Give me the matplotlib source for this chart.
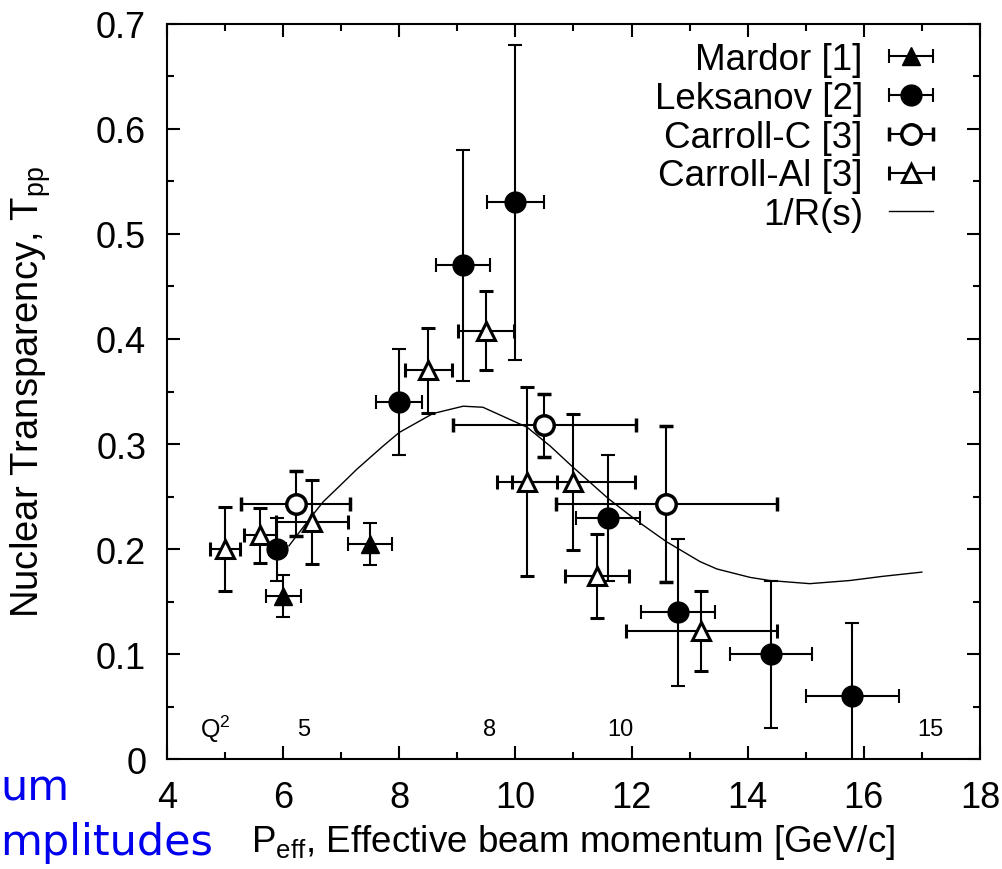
import numpy as np
import matplotlib
matplotlib.use("Agg")
import matplotlib.pyplot as plt
from matplotlib.lines import Line2D
from matplotlib.legend_handler import HandlerErrorbar

plt.rcParams['font.family'] = ['Liberation Sans', 'DejaVu Sans']
plt.rcParams['mathtext.fontset'] = 'custom'
plt.rcParams['mathtext.rm'] = 'Liberation Sans'
plt.rcParams['mathtext.it'] = 'Liberation Sans:italic'

# Mardor [1]
mardor_p = [6.0, 7.5]
mardor_t = [0.155, 0.205]
mardor_dp = [0.3, 0.38]
mardor_dt = [0.02, 0.02]

# Leksanov [2]
leks_p = [5.9, 8.0, 9.1, 10.0, 11.6, 12.8, 14.4, 15.8]
leks_t = [0.20, 0.34, 0.47, 0.53, 0.23, 0.14, 0.10, 0.06]
leks_dp = [0.15, 0.4, 0.46, 0.49, 0.55, 0.64, 0.7, 0.8]
leks_dt = [0.03, 0.05, 0.11, 0.15, 0.06, 0.07, 0.07, 0.07]

# Carroll-C [3]
cc_p = [6.22, 10.5, 12.6]
cc_t = [0.243, 0.318, 0.243]
cc_dp = [0.94, 1.58, 1.9]
cc_dt = [0.031, 0.03, 0.074]

# Carroll-Al [3]
cal_p = [5.0, 5.6, 6.5, 8.5, 9.5, 10.2, 11.0, 11.4, 13.2]
cal_t = [0.20, 0.213, 0.226, 0.37, 0.408, 0.264, 0.264, 0.174, 0.122]
cal_dp = [0.26, 0.27, 0.62, 0.4, 0.48, 0.52, 1.06, 0.55, 1.3]
cal_dt = [0.04, 0.026, 0.04, 0.04, 0.038, 0.09, 0.065, 0.04, 0.038]

# 1/R(s) curve
rs_p = [6.1, 6.46, 6.69, 7.01, 7.27, 7.72, 8.0, 8.58, 9.1, 9.44, 10.2, 10.6,
        10.97, 11.6, 12.09, 12.6, 13.18, 13.47, 14.04, 14.38, 15.07, 15.76,
        16.33, 17.0]
rs_t = [0.203, 0.229, 0.245, 0.262, 0.276, 0.298, 0.311, 0.329, 0.336, 0.335,
        0.316, 0.298, 0.279, 0.248, 0.227, 0.207, 0.188, 0.181, 0.173, 0.170,
        0.167, 0.170, 0.174, 0.178]

# Q^2 scale marked along the bottom
q2_labels = ['5', '8', '10', '15']
q2_pos = [6.35, 9.55, 11.8, 17.15]

labels = ['Mardor [1]', 'Leksanov [2]', 'Carroll-C [3]', 'Carroll-Al [3]', '1/R(s)']

fig = plt.figure(figsize=(10.03, 8.70), dpi=100)
ax = fig.add_axes([0.1665, 0.1264, 0.8105, 0.8449])

eb = dict(color='black', ecolor='black', elinewidth=1.5, capsize=5, capthick=1.5,
          linestyle='none')
styles = [
    dict(marker='^', ms=13, mfc='black', mec='black'),
    dict(marker='o', ms=15, mfc='black', mec='black'),
    dict(marker='o', ms=14, mfc='white', mec='black', mew=2.5),
    dict(marker='^', ms=13, mfc='white', mec='black', mew=2.2),
]
series = [(mardor_p, mardor_t, mardor_dp, mardor_dt),
          (leks_p, leks_t, leks_dp, leks_dt),
          (cc_p, cc_t, cc_dp, cc_dt),
          (cal_p, cal_t, cal_dp, cal_dt)]

ax.plot(rs_p, rs_t, color='black', lw=1.0, zorder=1)

handles = []
for (p, t, dp, dt), st in zip(series, styles):
    ax.errorbar(p, t, xerr=dp, yerr=dt, zorder=3, **eb, **st)
    # legend proxy with horizontal bar only
    h = ax.errorbar([np.nan], [np.nan], xerr=[0.1], **eb, **st)
    handles.append(h)
handles.append(Line2D([], [], color='black', lw=1.0))

for lab, p in zip(q2_labels, q2_pos):
    ax.text(p, 0.029, lab, fontsize=17, ha='center', va='center')
ax.text(4.83, 0.029, 'Q$^2$', fontsize=18, ha='center', va='center')

ax.set_xlim(4, 18)
ax.set_ylim(0, 0.7)
ax.set_xticks(np.arange(4, 19, 2))
ax.set_xticks(np.arange(5, 18, 2), minor=True)
ax.set_yticks(np.arange(0, 0.71, 0.1))
ax.set_yticks(np.arange(0.05, 0.7, 0.1), minor=True)
ax.set_yticklabels(['0'] + ['%.1f' % v for v in np.arange(0.1, 0.71, 0.1)])
ax.tick_params(which='both', direction='in', top=True, right=True, width=1.5,
               labelsize=26, pad=15)
ax.tick_params(which='major', length=9.5)
ax.tick_params(which='minor', length=5)
for s in ax.spines.values():
    s.set_linewidth(1.5)

ax.set_xlabel('P$_{\\mathrm{eff}}$, Effective beam momentum [GeV/c]', fontsize=26.5)
ax.set_ylabel('Nuclear Transparency, T$_{\\mathrm{pp}}$', fontsize=27.5)
ax.xaxis.set_label_coords(0.5, -0.085)
ax.yaxis.set_label_coords(-0.14, 0.5)

ax.legend(handles, labels, loc='upper right', bbox_to_anchor=(0.942, 0.975),
          frameon=False, markerfirst=False, fontsize=26.5, labelspacing=0.1,
          handlelength=1.2, handletextpad=0.7, borderpad=0, borderaxespad=0,
          handler_map={type(handles[0]): HandlerErrorbar(xerr_size=0.6)})

# slide text running in from the left edge
fig.text(0.0, 0.0805, 'um', color='#0000EE', fontsize=31, family='DejaVu Sans',
         ha='left', va='baseline')
fig.text(0.0, 0.0172, 'mplitudes', color='#0000EE', fontsize=31,
         family='DejaVu Sans', ha='left', va='baseline')

fig.savefig('out.png', dpi=100)
